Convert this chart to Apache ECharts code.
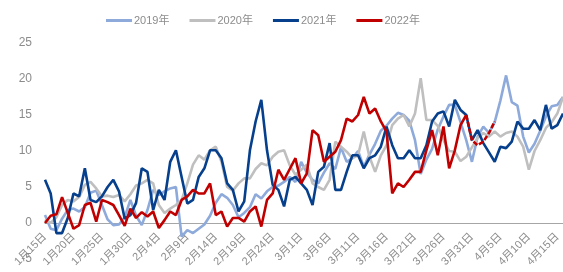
<!DOCTYPE html>
<html>
<head>
<meta charset="utf-8">
<script src="https://cdn.jsdelivr.net/npm/echarts@6/dist/echarts.min.js"></script>
<style>
  html, body { margin: 0; padding: 0; background: #fff; }
  #chart { width: 563px; height: 272px; }
</style>
</head>
<body>
<div id="chart"></div>
<script>
// daily categories, 1/15 .. 4/16
const days = [
  '1月15日','1月16日','1月17日','1月18日','1月19日','1月20日','1月21日','1月22日','1月23日','1月24日',
  '1月25日','1月26日','1月27日','1月28日','1月29日','1月30日','1月31日','2月1日','2月2日','2月3日',
  '2月4日','2月5日','2月6日','2月7日','2月8日','2月9日','2月10日','2月11日','2月12日','2月13日',
  '2月14日','2月15日','2月16日','2月17日','2月18日','2月19日','2月20日','2月21日','2月22日','2月23日',
  '2月24日','2月25日','2月26日','2月27日','2月28日','3月1日','3月2日','3月3日','3月4日','3月5日',
  '3月6日','3月7日','3月8日','3月9日','3月10日','3月11日','3月12日','3月13日','3月14日','3月15日',
  '3月16日','3月17日','3月18日','3月19日','3月20日','3月21日','3月22日','3月23日','3月24日','3月25日',
  '3月26日','3月27日','3月28日','3月29日','3月30日','3月31日','4月1日','4月2日','4月3日','4月4日',
  '4月5日','4月6日','4月7日','4月8日','4月9日','4月10日','4月11日','4月12日','4月13日','4月14日',
  '4月15日','4月16日'
];

const y2019 = [
  1.1, -0.8, -1.0, 0.6, 1.8, 2.0, 1.6, 2.2, 4.2, 4.5,
  2.5, 0.5, -0.3, -0.2, 0.8, 3.2, 1.0, -0.3, 1.8, 4.6,
  3.9, 4.4, 4.8, 5.0, -1.9, -1.0, -1.4, -0.8, -0.2, 1.0,
  2.8, 4.0, 3.5, 2.5, 0.8, 1.4, 2.2, 4.0, 3.4, 4.4,
  5.0, 5.2, 5.7, 6.4, 5.7, 8.5, 7.0, 6.0, 5.5, 7.0,
  8.3, 7.5, 10.5, 8.5, 9.0, 10.0, 7.8, 9.5, 11.0, 12.8,
  13.5, 14.5, 15.3, 15.0, 14.2, 11.5, 6.8, 8.8, 10.3, 13.0,
  14.8, 16.4, 16.4, 14.0, 11.5, 8.5, 12.0, 13.4, 12.5, 14.0,
  17.0, 20.5, 16.8, 16.3, 12.0, 9.8, 11.0, 12.8, 14.8, 16.2,
  16.4, 17.5
];

const y2020 = [
  0.5, 0.0, 0.8, 2.5, 3.2, 3.0, 3.6, 5.3, 5.7, 4.8,
  3.7, 3.8, 3.6, 3.9, 3.0, 4.0, 5.2, 5.5, 6.0, 5.5,
  2.5, 1.4, 2.0, 2.5, 3.2, 5.5, 8.1, 9.4, 8.8, 10.1,
  10.6, 8.5, 5.0, 4.5, 5.5, 6.2, 6.2, 7.5, 8.3, 8.0,
  9.2, 9.9, 10.1, 8.0, 6.7, 7.4, 8.1, 5.5, 5.0, 4.6,
  6.0, 11.3, 10.6, 9.9, 9.0, 9.4, 12.7, 9.2, 7.1, 9.4,
  10.8, 13.6, 14.5, 15.0, 13.4, 15.2, 20.1, 14.3, 14.3, 13.5,
  11.5, 10.0, 9.9, 8.6, 9.2, 10.5, 11.8, 12.5, 12.0, 12.7,
  12.0, 12.5, 12.7, 12.0, 10.6, 7.4, 10.0, 11.5, 13.2, 14.0,
  15.2, 17.5
];

const y2021 = [
  6.0, 4.1, -1.4, -1.4, 0.7, 4.1, 3.7, 7.6, 3.2, 2.9,
  3.7, 5.0, 6.0, 4.4, 0.6, 1.1, 2.8, 7.6, 7.1, 1.8,
  4.6, 3.2, 8.5, 10.1, 6.4, 2.7, 3.2, 6.4, 7.6, 10.1,
  10.1, 9.0, 5.5, 4.6, 1.6, 3.0, 10.1, 14.1, 17.1, 10.1,
  5.3, 4.6, 2.3, 6.0, 6.4, 5.5, 4.6, 2.5, 7.1, 7.8,
  11.1, 4.6, 4.6, 7.1, 9.4, 9.4, 7.6, 9.0, 9.4, 10.6,
  13.4, 10.8, 9.0, 9.0, 10.1, 9.0, 9.0, 10.8, 14.1, 15.2,
  15.5, 13.4, 17.1, 15.7, 15.0, 11.5, 12.9, 11.1, 9.8, 8.5,
  10.6, 10.4, 11.3, 14.1, 13.1, 13.1, 14.3, 12.9, 16.4, 13.1,
  13.6, 15.2
];

const y2022 = [
  0, 1, 1.2, 3.6, 1.4, -0.8, -0.3, 2.5, 2.8, 0.2,
  3.2, 2.9, 2.5, 1.1, -0.4, 2.0, 0.7, 1.5, 0.9, 1.6,
  -0.7, 0.4, 1.6, 1.1, 3.2, 3.7, 4.6, 4.1, 4.1, 5.5,
  1.1, 1.6, -0.5, 0.7, 0.7, 0.2, 1.6, 2.3, -0.5, 3.2,
  4.1, 7.4, 6, 7.5, 9, 5.5, 6.9, 12.9, 12.2, 8.5,
  9.2, 9.9, 11.5, 14.5, 14.1, 15, 17.5, 15.2, 15.9, 14.1,
  12.7, 4.1, 5.5, 5, 6, 7.1, 7.1, 10.1, 12.9, 9.4,
  13.4, 7.6, 10.1, 13.6, 15, 11.5, 10.8, 11.3, 12.5, 14.1
];
// 2022 turns dashed from this point on
const dashFrom = 74;

const names = ['2019年', '2020年', '2021年', '2022年'];
const colors = ['#8eaadb', '#bfbfbf', '#063f8c', '#c00000'];

const yMin = -5, yMax = 25;
const gridTop = 43, gridBottom = 13, chartH = 272;

const solid2022 = y2022.map((v, i) => i <= dashFrom ? v : null);
const dash2022 = y2022.map((v, i) => i >= dashFrom ? v : null);

// x axis sits on the zero line: lift it from the grid bottom by the -5..0 span
const plotH = chartH - gridTop - gridBottom;
const zeroLift = plotH * (0 - yMin) / (yMax - yMin);

const font = "'Liberation Sans', 'Noto Sans CJK SC', sans-serif";

function line(name, data, color, type) {
  return {
    name, type: 'line', data,
    symbol: 'none',
    connectNulls: false,
    lineStyle: { color, width: 2.6, type: type || 'solid' },
    itemStyle: { color }
  };
}

const chart = echarts.init(document.getElementById('chart'));
chart.setOption({
  animation: false,
  textStyle: { fontFamily: font },
  legend: {
    data: names,
    top: 10,
    left: 101,
    icon: 'rect',
    itemWidth: 26,
    itemHeight: 3,
    itemGap: 20,
    textStyle: { color: '#8c8c8c', fontSize: 11, fontFamily: font, padding: [0, 0, 0, -3] }
  },
  grid: { left: 45, right: 0, top: gridTop, bottom: gridBottom, outerBoundsMode: 'none' },
  xAxis: {
    type: 'category',
    data: days,
    boundaryGap: false,
    position: 'bottom',
    offset: -zeroLift,
    axisLine: { onZero: false, lineStyle: { color: '#a6a6a6', width: 1 } },
    axisTick: { show: false },
    axisLabel: {
      interval: 4, rotate: 45, margin: 12,
      color: '#8c8c8c', fontSize: 11, fontFamily: font
    },
    splitLine: { show: false }
  },
  yAxis: {
    type: 'value',
    min: yMin, max: yMax, interval: 5,
    axisLine: { show: false },
    axisTick: { show: false },
    splitLine: { show: false },
    axisLabel: { color: '#8c8c8c', fontSize: 12, margin: 13, fontFamily: font }
  },
  series: [
    line(names[0], y2019, colors[0]),
    line(names[1], y2020, colors[1]),
    line(names[2], y2021, colors[2]),
    line(names[3], solid2022, colors[3]),
    line(names[3], dash2022, colors[3], [5, 2])
  ]
});
</script>
</body>
</html>
